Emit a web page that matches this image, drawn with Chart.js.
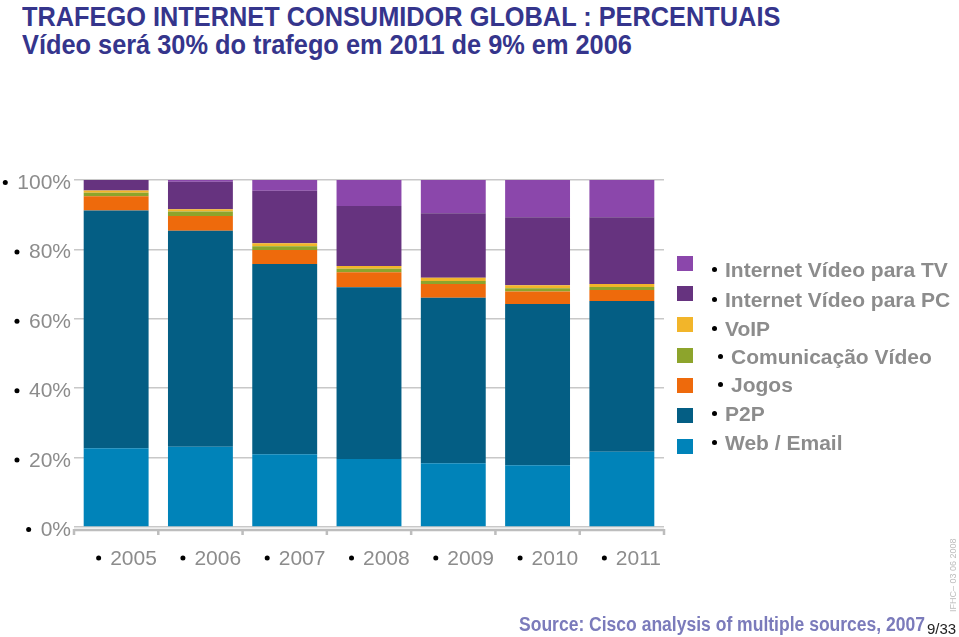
<!DOCTYPE html>
<html>
<head>
<meta charset="utf-8">
<script src="https://cdn.jsdelivr.net/npm/chart.js@4.4.1/dist/chart.umd.min.js"></script>
<style>
  html, body { margin:0; padding:0; background:#fff; }
  body { width:959px; height:637px; position:relative; overflow:hidden; font-family:"Liberation Sans", Arial, Helvetica, sans-serif; }
  #c { position:absolute; left:0; top:0; }
  .title { position:absolute; left:22px; font-weight:bold; font-size:28px; line-height:28px; color:#35358c; white-space:nowrap; transform:scaleX(0.905); transform-origin:0 0; }
  .leg-sq { position:absolute; left:677px; width:16px; height:15px; }
  .leg-dot { position:absolute; width:5px; height:5px; border-radius:50%; background:#000; }
  .leg-tx { position:absolute; font-weight:bold; font-size:21px; line-height:21px; color:#8c8c8c; white-space:nowrap; }
  #src { position:absolute; left:519px; top:614px; font-weight:bold; font-size:20px; line-height:20px; color:#7b7bbb; white-space:nowrap; transform:scaleX(0.876); transform-origin:0 0; }
  #pg { position:absolute; left:927px; top:621px; font-size:15px; line-height:15px; color:#222; white-space:nowrap; }
  #vert { position:absolute; left:948px; top:612px; font-size:9px; line-height:10px; color:#bdbdbd; white-space:nowrap; transform:rotate(-90deg); transform-origin:0 0; }
</style>
</head>
<body>
<div class="title" style="top:3px">TRAFEGO INTERNET CONSUMIDOR GLOBAL : PERCENTUAIS</div>
<div class="title" style="top:31px">Vídeo será 30% do trafego em 2011 de 9% em 2006</div>
<canvas id="c" width="959" height="637"></canvas>
<div id="legend"></div>
<div id="src">Source: Cisco analysis of multiple sources, 2007</div>
<div id="pg">9/33</div>
<div id="vert">IFHC– 03 06 2008</div>
<script>
// ---- data (percent of consumer internet traffic) ----
const categories = ['2005', '2006', '2007', '2008', '2009', '2010', '2011'];
const webEmail         = [22.7, 23.1, 21.0, 19.6, 18.4, 17.8, 21.7];
const p2p              = [68.5, 62.3, 54.8, 49.5, 47.7, 46.5, 43.4];
const jogos            = [4.1, 4.2, 4.0, 4.3, 3.9, 3.6, 3.2];
const comunicacaoVideo = [1.0, 1.3, 1.1, 1.0, 0.9, 0.9, 0.9];
const voip             = [0.7, 0.7, 0.9, 0.8, 0.9, 0.9, 0.8];
const videoPC          = [3.0, 7.9, 15.1, 17.3, 18.6, 19.6, 19.3];
const videoTV          = [0.0, 0.5, 3.1, 7.5, 9.6, 10.7, 10.7];
const yTickValues = [0, 20, 40, 60, 80, 100];
const yTickLabels = ['0%', '20%', '40%', '60%', '80%', '100%'];
const seriesNames = ['Web / Email', 'P2P', 'Jogos', 'Comunicação Vídeo', 'VoIP', 'Internet Vídeo para PC', 'Internet Vídeo para TV'];
const seriesColors = ['#0083b9', '#045e84', '#ee6a0c', '#8da42c', '#f2b52a', '#66337f', '#8b47ab'];
const seriesData = [webEmail, p2p, jogos, comunicacaoVideo, voip, videoPC, videoTV];

const FONT = '"Liberation Sans", Arial, Helvetica, sans-serif';

const decor = {
  id: 'decor',
  afterDraw(chart) {
    const ctx = chart.ctx;
    const xs = chart.scales.x, ys = chart.scales.y;
    const a = chart.chartArea;
    ctx.save();
    // x axis line + tick marks at category boundaries
    const axY = a.bottom + 3;
    ctx.strokeStyle = '#bdbdbd';
    ctx.lineWidth = 2.5;
    ctx.beginPath();
    ctx.moveTo(a.left, axY);
    ctx.lineTo(a.right, axY);
    const bounds = [a.left];
    for (let i = 1; i < categories.length; i++) {
      bounds.push((xs.getPixelForValue(i - 1) + xs.getPixelForValue(i)) / 2);
    }
    bounds.push(a.right);
    bounds.forEach(bx => { ctx.moveTo(bx, axY - 1); ctx.lineTo(bx, axY + 5); });
    ctx.stroke();

    // y labels with bullets
    ctx.font = '21px ' + FONT;
    ctx.textAlign = 'right';
    ctx.textBaseline = 'alphabetic';
    yTickValues.forEach((v, i) => {
      const y = ys.getPixelForValue(v);
      const t = yTickLabels[i];
      ctx.fillStyle = '#8c8c8c';
      ctx.fillText(t, a.left - 3, y + 9);
      const w = ctx.measureText(t).width;
      ctx.fillStyle = '#000';
      ctx.beginPath();
      ctx.arc(a.left - 3 - w - 12, y + 2.5, 2.5, 0, Math.PI * 2);
      ctx.fill();
    });

    // x labels with bullets
    ctx.textAlign = 'left';
    categories.forEach((c, i) => {
      const cx = xs.getPixelForValue(i);
      ctx.fillStyle = '#8c8c8c';
      ctx.fillText(c, cx - 6, 564.5);
      ctx.fillStyle = '#000';
      ctx.beginPath();
      ctx.arc(cx - 17.5, 558, 2.5, 0, Math.PI * 2);
      ctx.fill();
    });
    ctx.restore();
  }
};

new Chart(document.getElementById('c'), {
  type: 'bar',
  data: {
    labels: categories,
    datasets: seriesData.map((d, i) => ({
      label: seriesNames[i],
      data: d,
      backgroundColor: seriesColors[i],
      borderWidth: 0,
      barPercentage: 0.77,
      categoryPercentage: 1.0
    }))
  },
  options: {
    responsive: false,
    animation: false,
    devicePixelRatio: 1,
    layout: { padding: { left: 74, right: 295, top: 180, bottom: 110 } },
    plugins: { legend: { display: false }, tooltip: { enabled: false } },
    scales: {
      x: {
        stacked: true,
        grid: { display: false, drawTicks: false },
        border: { display: false },
        ticks: { display: false }
      },
      y: {
        stacked: true,
        min: 0, max: 100,
        ticks: { display: false, stepSize: 20 },
        grid: { color: '#c8c8c8', lineWidth: 1.5, drawTicks: false },
        border: { display: false }
      }
    }
  },
  plugins: [decor]
});

// ---- HTML legend built from the series arrays (top of stack first) ----
const legend = document.getElementById('legend');
const sqTops = [256, 286, 317, 348, 378, 408, 439];
const txTops = [259, 288.5, 317.5, 346, 373.5, 402.5, 431.5];
const indent = { 'Comunicação Vídeo': 6, 'Jogos': 6 };
for (let k = 0; k < seriesNames.length; k++) {
  const i = seriesNames.length - 1 - k;
  const name = seriesNames[i];
  const sq = document.createElement('div');
  sq.className = 'leg-sq';
  sq.style.top = sqTops[k] + 'px';
  sq.style.background = seriesColors[i];
  legend.appendChild(sq);
  const off = indent[name] || 0;
  const dot = document.createElement('div');
  dot.className = 'leg-dot';
  dot.style.left = (712 + off) + 'px';
  dot.style.top = (txTops[k] + 8) + 'px';
  legend.appendChild(dot);
  const tx = document.createElement('div');
  tx.className = 'leg-tx';
  tx.style.left = (725 + off) + 'px';
  tx.style.top = txTops[k] + 'px';
  tx.textContent = name;
  legend.appendChild(tx);
}
</script>
</body>
</html>
